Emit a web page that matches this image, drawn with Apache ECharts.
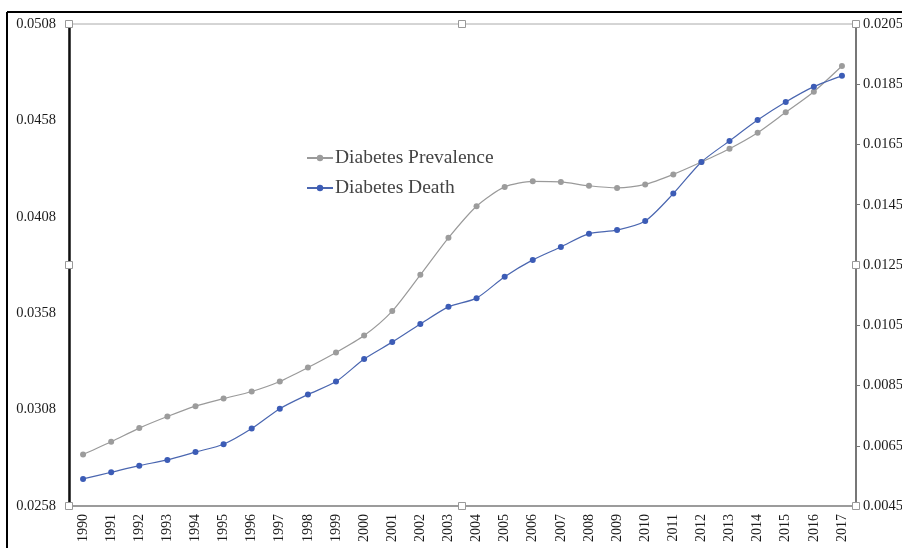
<!DOCTYPE html>
<html>
<head>
<meta charset="utf-8">
<script src="https://cdn.jsdelivr.net/npm/echarts@6/dist/echarts.min.js"></script>
<style>
  html, body { margin: 0; padding: 0; background: #fff; }
  #chart { width: 902px; height: 548px; }
</style>
</head>
<body>
<div id="chart"></div>
<script>
// data
const years = ['1990', '1991', '1992', '1993', '1994', '1995', '1996', '1997', '1998', '1999',
  '2000', '2001', '2002', '2003', '2004', '2005', '2006', '2007', '2008', '2009',
  '2010', '2011', '2012', '2013', '2014', '2015', '2016', '2017']

// left axis
const prevalence = [0.02847, 0.02913, 0.02984, 0.03044, 0.03098, 0.03137, 0.03174, 0.03226, 0.03298, 0.03376,
  0.03464, 0.03591, 0.03779, 0.03971, 0.04135, 0.04235, 0.04264, 0.04261, 0.04241, 0.04230,
  0.04248, 0.04300, 0.04364, 0.04433, 0.04516, 0.04622, 0.04729, 0.04862]

// right axis
const death = [0.00540, 0.00562, 0.00584, 0.00603, 0.00629, 0.00655, 0.00707, 0.00773, 0.00820, 0.00863,
  0.00938, 0.00994, 0.01054, 0.01111, 0.01140, 0.01211, 0.01267, 0.01310, 0.01354, 0.01366,
  0.01396, 0.01487, 0.01592, 0.01662, 0.01731, 0.01791, 0.01842, 0.01878]

const seriesNames = ['Diabetes Prevalence', 'Diabetes Death']

const font = 'Liberation Serif, Times New Roman, serif'

const chart = echarts.init(document.getElementById('chart'))

// little white handles round the plot frame
const handles = [[69, 24], [462, 24], [856, 24], [69, 265], [856, 265], [69, 506], [462, 506], [856, 506]]
const handleShapes = handles.map(([x, y]) => ({
  type: 'rect',
  shape: { x: x - 3.5, y: y - 3.5, width: 7, height: 7 },
  style: { fill: '#fff', stroke: '#999', lineWidth: 1 },
  z: 100
}))

const option = {
  backgroundColor: '#fff',
  animation: false,
  grid: {
    left: 69, right: 46, top: 24, bottom: 42,
    outerBoundsMode: 'none',
    containLabel: false,
    show: true, borderColor: '#aaa', borderWidth: 1
  },
  legend: {
    orient: 'vertical',
    left: 306,
    top: 148,
    padding: 0,
    itemGap: 10,
    itemWidth: 26,
    itemHeight: 8,
    data: seriesNames,
    textStyle: { fontFamily: font, fontSize: 19.5, color: '#444', padding: [0, 0, 0, -3] }
  },
  xAxis: {
    type: 'category',
    data: years,
    boundaryGap: true,
    axisLine: { lineStyle: { color: '#888', width: 1.5 } },
    axisTick: { show: false },
    axisLabel: { rotate: 90, margin: 8, fontFamily: font, fontSize: 14, color: '#1a1a1a', interval: 0 }
  },
  yAxis: [
    {
      type: 'value',
      min: 0.0258,
      max: 0.0508,
      interval: 0.005,
      splitLine: { show: false },
      axisLine: { show: true, lineStyle: { color: '#111', width: 2.5 } },
      axisTick: { show: false },
      axisLabel: { formatter: v => v.toFixed(4), margin: 13, fontFamily: font, fontSize: 14.5, color: '#1a1a1a' }
    },
    {
      type: 'value',
      position: 'right',
      min: 0.0045,
      max: 0.0205,
      interval: 0.002,
      splitLine: { show: false },
      axisLine: { show: true, lineStyle: { color: '#777', width: 2 } },
      axisTick: { show: true, length: 4, lineStyle: { color: '#777' } },
      axisLabel: { formatter: v => v.toFixed(4), margin: 7, fontFamily: font, fontSize: 14.5, color: '#1a1a1a' }
    }
  ],
  series: [
    {
      name: seriesNames[0],
      type: 'line',
      yAxisIndex: 0,
      data: prevalence,
      smooth: 0.25,
      symbol: 'circle',
      symbolSize: 6,
      lineStyle: { color: '#9a9a9a', width: 1.2 },
      itemStyle: { color: '#9c9c9c' }
    },
    {
      name: seriesNames[1],
      type: 'line',
      yAxisIndex: 1,
      data: death,
      smooth: 0.25,
      symbol: 'circle',
      symbolSize: 6,
      lineStyle: { color: '#4a66b0', width: 1.2 },
      itemStyle: { color: '#3c5cb6' }
    }
  ],
  graphic: [
    // outer frame of the pasted figure
    { type: 'line', shape: { x1: 7, y1: 12, x2: 902, y2: 12 }, style: { stroke: '#000', lineWidth: 2 }, z: 100 },
    { type: 'line', shape: { x1: 7, y1: 12, x2: 7, y2: 548 }, style: { stroke: '#000', lineWidth: 2 }, z: 100 }
  ].concat(handleShapes)
}

chart.setOption(option)
</script>
</body>
</html>
